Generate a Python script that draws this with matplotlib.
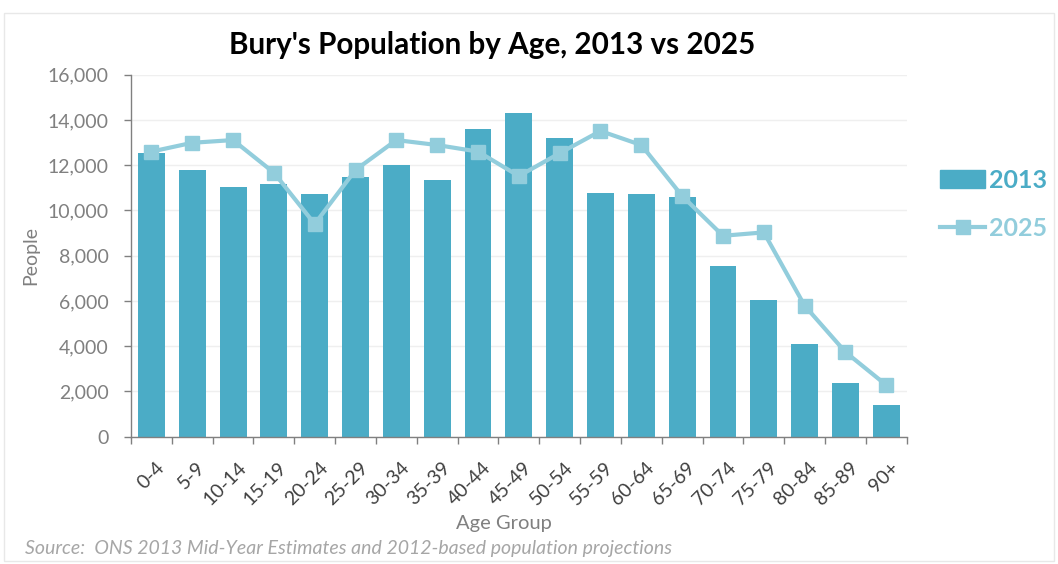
import matplotlib
matplotlib.use("Agg")
import matplotlib.pyplot as plt
from matplotlib.patches import Rectangle
from matplotlib.lines import Line2D
import matplotlib.transforms as mtransforms

plt.rcParams['font.family'] = ['Lato', 'DejaVu Sans']

age_groups = ["0-4", "5-9", "10-14", "15-19", "20-24", "25-29", "30-34", "35-39",
              "40-44", "45-49", "50-54", "55-59", "60-64", "65-69", "70-74",
              "75-79", "80-84", "85-89", "90+"]
pop_2013 = [12530, 11790, 11020, 11170, 10730, 11490, 12010, 11330, 13600,
            14290, 13220, 10780, 10730, 10580, 7530, 6030, 4110, 2370, 1390]
pop_2025 = [12600, 12990, 13110, 11670, 9400, 11790, 13110, 12890, 12600,
            11520, 12530, 13510, 12890, 10640, 8880, 9030, 5790, 3740, 2280]
y_ticks = [0, 2000, 4000, 6000, 8000, 10000, 12000, 14000, 16000]

bar_color = "#4BACC6"
line_color = "#92CDDC"

fig = plt.figure(figsize=(10.58, 5.64), dpi=100)
ax = fig.add_axes([0.1238, 0.2257, 0.857 - 0.1238, 0.8676 - 0.2257])

x = list(range(len(age_groups)))
ax.bar(x, pop_2013, width=0.66, color=bar_color, zorder=2)
ax.plot(x, pop_2025, color=line_color, lw=3, marker='s', markersize=9.5,
        markerfacecolor=line_color, markeredgecolor=line_color, zorder=3)

ax.set_xlim(-0.5, len(age_groups) - 0.5)
ax.set_ylim(0, 16000)
ax.set_yticks(y_ticks)
ax.set_yticklabels([f"{v:,}" for v in y_ticks], fontsize=14, color="#808080")
ax.yaxis.grid(True, color="#EFEFEF", lw=1, zorder=0)
ax.set_axisbelow(True)

ax.set_xticks([i - 0.5 for i in range(len(age_groups) + 1)])
ax.set_xticklabels([])
ax.set_xticks(x, minor=True)
ax.set_xticklabels(age_groups, minor=True, rotation=45, ha='right', va='top',
                   rotation_mode='anchor', fontsize=14, color="#404040")
ax.tick_params(axis='x', which='minor', length=0, pad=16)
ax.tick_params(axis='x', which='major', length=5, color="#808080", width=1)
ax.tick_params(axis='y', length=5, color="#808080", width=1, pad=11)
offset = mtransforms.ScaledTranslation(3 / 72, 0, fig.dpi_scale_trans)
for lbl in ax.get_xticklabels(minor=True):
    lbl.set_transform(lbl.get_transform() + offset)

for s in ['top', 'right']:
    ax.spines[s].set_visible(False)
for s in ['left', 'bottom']:
    ax.spines[s].set_color("#808080")
    ax.spines[s].set_linewidth(1)

ax.set_ylabel("People", fontsize=14, color="#808080", labelpad=6)
ax.set_xlabel("Age Group", fontsize=14.5, color="#808080", va='center')
ax.xaxis.set_label_coords(0.481, -0.24)

fig.text(0.465, 0.921, "Bury's Population by Age, 2013 vs 2025", ha='center',
         va='center', fontsize=21.3, fontweight='bold', color="#000000")

handles = [Rectangle((0, 0), 1, 1, color=bar_color),
           Line2D([0], [0], color=line_color, lw=3, marker='s', markersize=9.5)]
leg = fig.legend(handles, ["2013", "2025"], loc='center left',
                 bbox_to_anchor=(940 / 1058, 0.638), frameon=False, fontsize=18,
                 borderpad=0, borderaxespad=0,
                 handlelength=1.8, handletextpad=0.15, labelspacing=1.0)
for t, c in zip(leg.get_texts(), [bar_color, line_color]):
    t.set_color(c)
    t.set_fontweight('bold')

fig.text(0.024, 0.012, "Source:  ONS 2013 Mid-Year Estimates and 2012-based population projections",
         fontsize=14, style='italic', color="#A6A6A6", ha='left', va='bottom')

fig.patches.append(Rectangle((0.004, 0.005), 0.992, 0.972, transform=fig.transFigure,
                             fill=False, edgecolor="#E8E8E8", lw=1))

fig.savefig("out.png", dpi=100)
